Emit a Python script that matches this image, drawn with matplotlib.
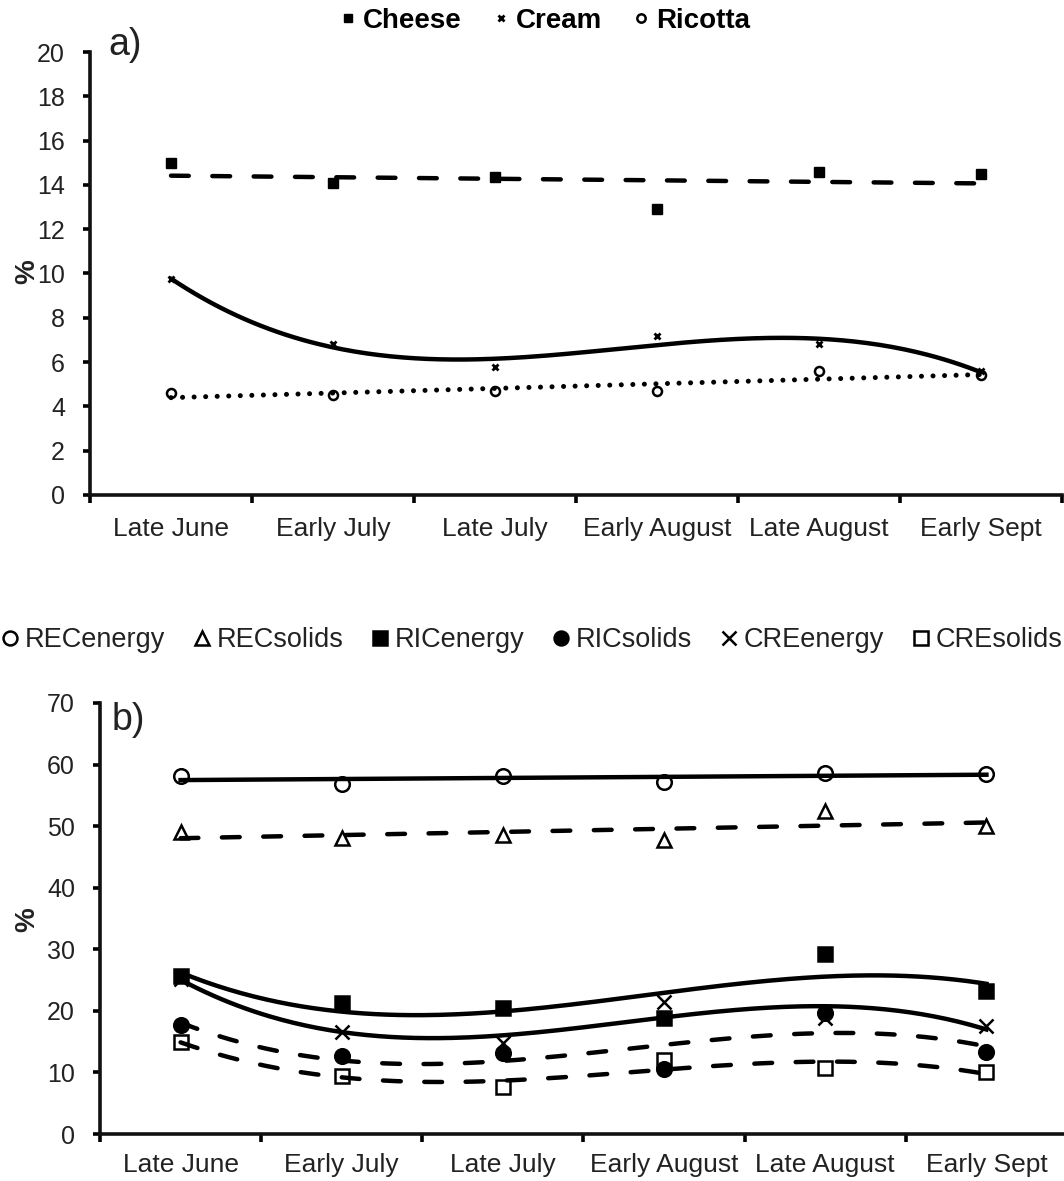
import numpy as np
import matplotlib.pyplot as plt
from matplotlib.lines import Line2D
from matplotlib.ticker import FixedLocator

plt.rcParams['font.family'] = ['Liberation Sans', 'DejaVu Sans']

periods = ["Late June", "Early July", "Late July", "Early August", "Late August", "Early Sept"]

# panel a) yields, %
cheese = [15.0, 14.1, 14.35, 12.9, 14.6, 14.5]
cream = [9.75, 6.8, 5.8, 7.2, 6.8, 5.6]
ricotta = [4.6, 4.5, 4.7, 4.7, 5.6, 5.4]

# panel b) recoveries, %
rec_energy = [58.2, 56.8, 58.2, 57.1, 58.7, 58.5]
rec_solids = [49.0, 48.0, 48.6, 47.8, 52.4, 50.1]
ric_energy = [25.6, 21.3, 20.5, 18.9, 29.3, 23.3]
ric_solids = [17.7, 12.6, 13.2, 10.5, 19.7, 13.3]
cre_energy = [25.2, 16.5, 14.8, 21.5, 18.8, 17.5]
cre_solids = [14.9, 9.4, 7.7, 12.0, 10.7, 10.0]

x = np.arange(1, len(periods) + 1)
xs = np.linspace(1, len(periods), 200)

def trend(y, deg):
    return np.polyval(np.polyfit(x, y, deg), xs)

LW = 3.2
dash = dict(linestyle=(0, (4, 5.3)), dash_capstyle='round')
dots = dict(linestyle=(0, (0.01, 2.3)), dash_capstyle='round')

fig = plt.figure(figsize=(10.64, 11.81), dpi=100)

def style_axes(ax, ymax, ystep, xpad):
    for s in ['top', 'right']:
        ax.spines[s].set_visible(False)
    for s in ['left', 'bottom']:
        ax.spines[s].set_linewidth(2.6)
        ax.spines[s].set_color('#111111')
    ax.set_xlim(0.5, len(periods) + 0.5)
    ax.set_ylim(0, ymax)
    ax.set_yticks(np.arange(0, ymax + 1, ystep))
    ax.set_xticks(x)
    ax.set_xticklabels(periods, fontsize=19, color='#222222')
    ax.xaxis.set_minor_locator(FixedLocator(np.arange(0.5, len(periods) + 1, 1)))
    ax.tick_params(axis='x', which='major', length=0, pad=xpad)
    ax.tick_params(axis='x', which='minor', length=6, width=2.6, direction='out')
    ax.tick_params(axis='y', length=5, width=2.6, direction='out', pad=13,
                   labelsize=18, labelcolor='#222222')

# ---- panel a
ax1 = fig.add_axes([90 / 1064, 1 - 495 / 1181, 972 / 1064, 443 / 1181])
style_axes(ax1, 20, 2, 16)
ax1.plot(x, cheese, 's', color='black', ms=6.5)
ax1.plot(x, cream, 'x', color='black', ms=5, mew=2)
ax1.plot(x, ricotta, 'o', color='black', mfc='none', ms=6.5, mew=1.8)
ax1.plot(xs, trend(cheese, 1), color='black', lw=LW, **dash)
ax1.plot(xs, trend(cream, 3), color='black', lw=LW, solid_capstyle='round')
ax1.plot(xs, trend(ricotta, 1), color='black', lw=3.6, **dots)

hand_a = [Line2D([], [], ls='none', marker='s', color='black', ms=6),
          Line2D([], [], ls='none', marker='x', color='black', ms=5, mew=2),
          Line2D([], [], ls='none', marker='o', color='black', mfc='none', ms=6, mew=1.8)]
fig.legend(hand_a, ["Cheese", "Cream", "Ricotta"], loc='center',
           bbox_to_anchor=(545 / 1064, 1 - 21 / 1181), ncol=3, frameon=False,
           handlelength=0.6, handletextpad=0.25, columnspacing=1.1,
           prop=dict(family=['Liberation Sans Narrow', 'Liberation Sans'], weight='bold', size=20))

fig.text(108 / 1064, 1 - 45 / 1181, "a)", fontsize=27, va='center', ha='left', color='#222222')
fig.text(27 / 1064, 1 - 272 / 1181, "%", fontsize=20, fontweight='bold', rotation=90,
         va='center', ha='center', color='#222222')

# ---- panel b
ax2 = fig.add_axes([100 / 1064, 1 - 1134 / 1181, 967 / 1064, 431 / 1181])
style_axes(ax2, 70, 10, 14)
mk = dict(color='black', ms=10.5, mew=1.8, ls='none')
ax2.plot(x, rec_energy, marker='o', mfc='none', **mk)
ax2.plot(x, rec_solids, marker='^', mfc='none', **mk)
ax2.plot(x, ric_energy, marker='s', **mk)
ax2.plot(x, ric_solids, marker='o', **mk)
ax2.plot(x, cre_energy, marker='x', **mk)
ax2.plot(x, cre_solids, marker='s', mfc='none', **mk)
ax2.plot(xs, trend(rec_energy, 1), color='black', lw=LW)
ax2.plot(xs, trend(rec_solids, 1), color='black', lw=LW, **dash)
ax2.plot(xs, trend(ric_energy, 3), color='black', lw=LW)
ax2.plot(xs, trend(cre_energy, 3), color='black', lw=LW)
ax2.plot(xs, trend(ric_solids, 3), color='black', lw=LW, **dash)
ax2.plot(xs, trend(cre_solids, 3), color='black', lw=LW, **dash)

hmk = dict(color='black', ms=10, mew=1.8, ls='none')
hand_b = [Line2D([], [], marker='o', mfc='none', **hmk),
          Line2D([], [], marker='^', mfc='none', **hmk),
          Line2D([], [], marker='s', **hmk),
          Line2D([], [], marker='o', **hmk),
          Line2D([], [], marker='x', **hmk),
          Line2D([], [], marker='s', mfc='none', **hmk)]
fig.legend(hand_b, ["RECenergy", "RECsolids", "RICenergy", "RICsolids", "CREenergy", "CREsolids"],
           loc='center', bbox_to_anchor=(532 / 1064, 1 - 640 / 1181), ncol=6, frameon=False,
           handlelength=0.6, handletextpad=0.25, columnspacing=1.05,
           prop=dict(size=19.5), labelcolor='#222222')

fig.text(112 / 1064, 1 - 720 / 1181, "b)", fontsize=27, va='center', ha='left', color='#222222')
fig.text(27 / 1064, 1 - 920 / 1181, "%", fontsize=20, fontweight='bold', rotation=90,
         va='center', ha='center', color='#222222')

fig.savefig("out.png", dpi=100)
